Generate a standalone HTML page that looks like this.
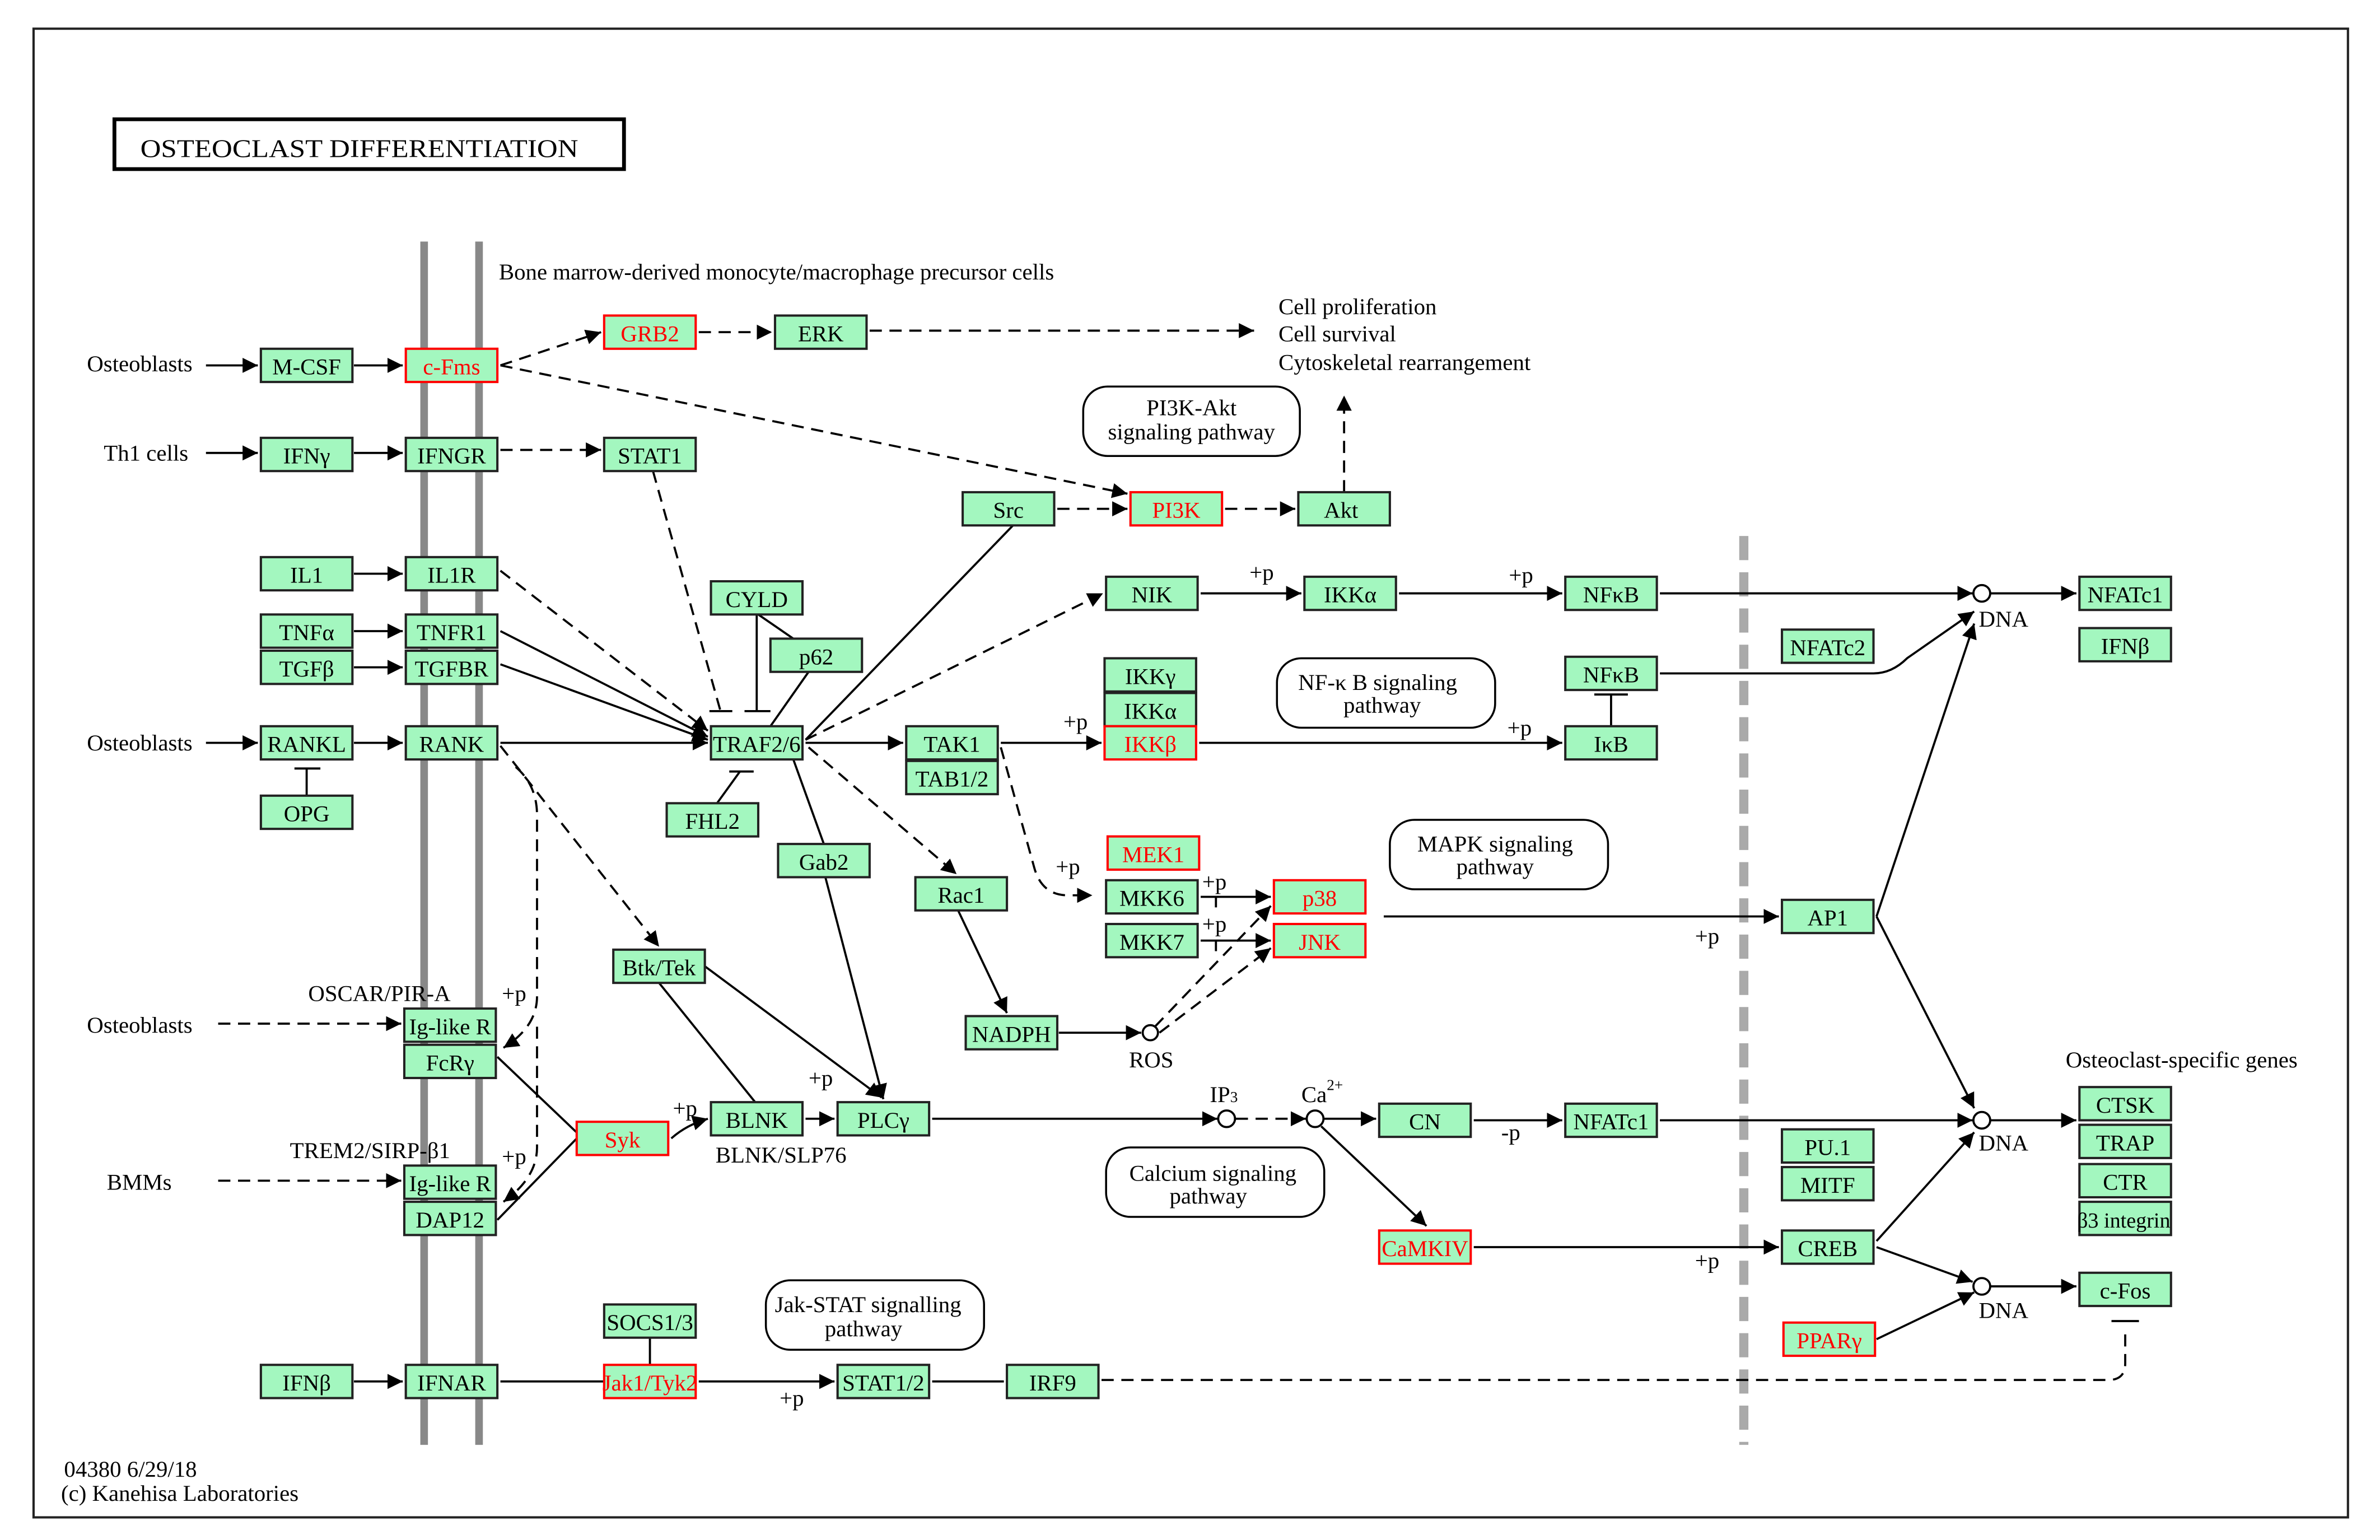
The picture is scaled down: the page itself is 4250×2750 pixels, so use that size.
<!DOCTYPE html>
<html><head><meta charset="utf-8"><style>
html,body{margin:0;padding:0;background:#fff;}
svg{display:block;}
text{font-family:"Liberation Serif","DejaVu Serif",serif;font-size:15px;fill:#000;}
.n rect{fill:#a3f7bf;stroke:#222;stroke-width:1.5;}
.r rect{fill:#a3f7bf;stroke:#f00;stroke-width:1.5;}
.n text,.r text{text-anchor:middle;}
.r text{fill:#f00;}
.l{stroke:#000;stroke-width:1.4;fill:none;}
.d{stroke:#000;stroke-width:1.4;fill:none;stroke-dasharray:8,5;}
.m{stroke:#888;stroke-width:5;}
.pw{fill:#fff;stroke:#000;stroke-width:1.3;}
</style></head><body>
<svg width="4250" height="2750" viewBox="0 0 1560 1020" preserveAspectRatio="none" xmlns="http://www.w3.org/2000/svg">
<defs><marker id="a" viewBox="0 0 10 10" refX="10" refY="5" markerWidth="10" markerHeight="10" markerUnits="userSpaceOnUse" orient="auto"><path d="M0,0L10,5L0,10z" fill="#000"/></marker></defs>
<rect x="0" y="0" width="1560" height="1020" fill="#fff"/>
<rect x="22" y="19" width="1517" height="986" fill="none" stroke="#222" stroke-width="1.5"/>
<rect x="75" y="79" width="334" height="33" fill="none" stroke="#000" stroke-width="2.5"/>
<text x="92" y="104" style="font-size:17px" textLength="287" lengthAdjust="spacingAndGlyphs">OSTEOCLAST  DIFFERENTIATION</text>

<line class="m" x1="278" y1="160" x2="278" y2="957"/>
<line class="m" x1="314" y1="160" x2="314" y2="957"/>
<line x1="1143" y1="355" x2="1143" y2="957" stroke="#aaa" stroke-width="6" stroke-dasharray="16,8"/>

<text x="327" y="185">Bone marrow-derived monocyte/macrophage precursor cells</text>
<text x="838" y="208">Cell proliferation</text>
<text x="838" y="226">Cell survival</text>
<text x="838" y="245">Cytoskeletal rearrangement</text>
<text x="1354" y="707">Osteoclast-specific genes</text>
<text x="57" y="246">Osteoblasts</text>
<text x="68" y="305">Th1 cells</text>
<text x="57" y="497">Osteoblasts</text>
<text x="57" y="684">Osteoblasts</text>
<text x="70" y="788">BMMs</text>
<text x="202" y="663">OSCAR/PIR-A</text>
<text x="190" y="767">TREM2/SIRP-β1</text>
<text x="469" y="770">BLNK/SLP76</text>
<text x="740" y="707">ROS</text>
<text x="793" y="730">IP<tspan style="font-size:10px">3</tspan></text>
<text x="853" y="730">Ca<tspan dy="-8" style="font-size:10px">2+</tspan></text>
<text x="1297" y="415">DNA</text>
<text x="1297" y="762">DNA</text>
<text x="1297" y="873">DNA</text>
<text x="42" y="978">04380 6/29/18</text>
<text x="40" y="994">(c) Kanehisa Laboratories</text>

<rect class="pw" x="710" y="256" width="142" height="46" rx="16"/>
<text x="781" y="275" text-anchor="middle">PI3K-Akt</text><text x="781" y="291" text-anchor="middle">signaling pathway</text>
<rect class="pw" x="837" y="436" width="143" height="46" rx="16"/>
<text x="903" y="457" text-anchor="middle">NF-κ B signaling</text><text x="906" y="472" text-anchor="middle">pathway</text>
<rect class="pw" x="911" y="543" width="143" height="46" rx="16"/>
<text x="980" y="564" text-anchor="middle">MAPK signaling</text><text x="980" y="579" text-anchor="middle">pathway</text>
<rect class="pw" x="725" y="760" width="143" height="46" rx="16"/>
<text x="795" y="782" text-anchor="middle">Calcium signaling</text><text x="792" y="797" text-anchor="middle">pathway</text>
<rect class="pw" x="502" y="848" width="143" height="46" rx="16"/>
<text x="569" y="869" text-anchor="middle">Jak-STAT signalling</text><text x="566" y="885" text-anchor="middle">pathway</text>

<line class="l" x1="135" y1="242" x2="169" y2="242" marker-end="url(#a)"/>
<line class="l" x1="232" y1="242" x2="264" y2="242" marker-end="url(#a)"/>
<line class="d" x1="328" y1="242" x2="394" y2="220" marker-end="url(#a)"/>
<line class="d" x1="458" y1="220" x2="506" y2="220" marker-end="url(#a)"/>
<line class="d" x1="570" y1="219" x2="822" y2="219" marker-end="url(#a)"/>
<line class="d" x1="328" y1="242" x2="739" y2="327" marker-end="url(#a)"/>
<line class="l" x1="135" y1="300" x2="169" y2="300" marker-end="url(#a)"/>
<line class="l" x1="232" y1="300" x2="264" y2="300" marker-end="url(#a)"/>
<line class="d" x1="328" y1="298" x2="394" y2="298" marker-end="url(#a)"/>
<line class="d" x1="428" y1="312" x2="472" y2="470"/>
<line class="l" x1="465" y1="471" x2="480" y2="471"/>
<line class="l" x1="496" y1="407" x2="496" y2="471"/>
<line class="l" x1="488" y1="471" x2="505" y2="471"/>
<line class="l" x1="497" y1="407" x2="520" y2="423"/>
<line class="l" x1="530" y1="445" x2="505" y2="481"/>
<line class="l" x1="478" y1="511" x2="494" y2="511"/>
<line class="l" x1="485" y1="511" x2="470" y2="532"/>
<line class="d" x1="693" y1="337" x2="739" y2="337" marker-end="url(#a)"/>
<line class="d" x1="803" y1="337" x2="849" y2="337" marker-end="url(#a)"/>
<line class="d" x1="881" y1="326" x2="881" y2="262" marker-end="url(#a)"/>
<line class="l" x1="664" y1="348" x2="528" y2="490"/>
<line class="l" x1="232" y1="380" x2="264" y2="380" marker-end="url(#a)"/>
<line class="d" x1="328" y1="378" x2="464" y2="484" marker-end="url(#a)"/>
<line class="l" x1="232" y1="418" x2="264" y2="418" marker-end="url(#a)"/>
<line class="l" x1="328" y1="418" x2="464" y2="488" marker-end="url(#a)"/>
<line class="l" x1="232" y1="442" x2="264" y2="442" marker-end="url(#a)"/>
<line class="l" x1="328" y1="440" x2="464" y2="490" marker-end="url(#a)"/>
<line class="l" x1="135" y1="492" x2="169" y2="492" marker-end="url(#a)"/>
<line class="l" x1="232" y1="492" x2="264" y2="492" marker-end="url(#a)"/>
<line class="l" x1="328" y1="492" x2="464" y2="492" marker-end="url(#a)"/>
<line class="l" x1="193" y1="509" x2="210" y2="509"/><line class="l" x1="201" y1="509" x2="201" y2="527"/>
<line class="d" x1="528" y1="490" x2="723" y2="393" marker-end="url(#a)"/>
<line class="l" x1="528" y1="492" x2="592" y2="492" marker-end="url(#a)"/>
<line class="l" x1="656" y1="492" x2="722" y2="492" marker-end="url(#a)"/>
<line class="d" x1="530" y1="495" x2="627" y2="579" marker-end="url(#a)"/>
<line class="l" x1="520" y1="503" x2="540" y2="559"/>
<line class="l" x1="541" y1="581" x2="579" y2="728" marker-end="url(#a)"/>
<path class="d" d="M656,495 L678,575 Q683,593 700,593 L716,593" marker-end="url(#a)"/>
<line class="l" x1="787" y1="393" x2="853" y2="393" marker-end="url(#a)"/>
<line class="l" x1="917" y1="393" x2="1024" y2="393" marker-end="url(#a)"/>
<line class="l" x1="1088" y1="393" x2="1293" y2="393" marker-end="url(#a)"/>
<line class="l" x1="1304" y1="393" x2="1361" y2="393" marker-end="url(#a)"/>
<line class="l" x1="786" y1="492" x2="1024" y2="492" marker-end="url(#a)"/>
<line class="l" x1="1056" y1="481" x2="1056" y2="460"/><line class="l" x1="1045" y1="460" x2="1067" y2="460"/>
<path class="l" d="M1088,446 L1228,446 Q1240,446 1250,436 L1294,405" marker-end="url(#a)"/>
<line class="l" x1="787" y1="594" x2="833" y2="594" marker-end="url(#a)"/>
<line class="l" x1="787" y1="623" x2="833" y2="623" marker-end="url(#a)"/>
<line class="l" x1="797" y1="594" x2="797" y2="601"/><line class="l" x1="797" y1="623" x2="797" y2="630"/>
<line class="d" x1="757" y1="680" x2="833" y2="600" marker-end="url(#a)"/>
<line class="d" x1="760" y1="684" x2="833" y2="628" marker-end="url(#a)"/>
<line class="l" x1="907" y1="607" x2="1166" y2="607" marker-end="url(#a)"/>
<line class="l" x1="628" y1="603" x2="660" y2="671" marker-end="url(#a)"/>
<line class="l" x1="694" y1="684" x2="748" y2="684" marker-end="url(#a)"/>
<circle cx="754" cy="684" r="5" fill="#fff" stroke="#000" stroke-width="1.4"/>
<line class="l" x1="1230" y1="607" x2="1294" y2="413" marker-end="url(#a)"/>
<line class="l" x1="1230" y1="607" x2="1294" y2="734" marker-end="url(#a)"/>
<line class="d" x1="328" y1="494" x2="432" y2="627" marker-end="url(#a)"/>
<path class="d" d="M338,508 Q352,520 352,540 L352,660 Q352,680 330,694" marker-end="url(#a)"/>
<path class="d" d="M352,680 L352,760 Q352,780 330,796" marker-end="url(#a)"/>
<line class="l" x1="462" y1="640" x2="578" y2="727" marker-end="url(#a)"/>
<line class="l" x1="432" y1="651" x2="495" y2="730"/>
<line class="l" x1="326" y1="700" x2="380" y2="752"/>
<line class="l" x1="326" y1="808" x2="380" y2="752"/>
<path class="l" d="M440,754 Q450,745 464,741" marker-end="url(#a)"/>
<line class="l" x1="528" y1="741" x2="547" y2="741" marker-end="url(#a)"/>
<line class="l" x1="611" y1="741" x2="798" y2="741" marker-end="url(#a)"/>
<circle cx="804" cy="741" r="5.5" fill="#fff" stroke="#000" stroke-width="1.4"/>
<line class="d" x1="810" y1="741" x2="856" y2="741" marker-end="url(#a)"/>
<circle cx="862" cy="741" r="5.5" fill="#fff" stroke="#000" stroke-width="1.4"/>
<line class="l" x1="868" y1="741" x2="902" y2="741" marker-end="url(#a)"/>
<line class="l" x1="966" y1="742" x2="1024" y2="742" marker-end="url(#a)"/>
<line class="l" x1="1088" y1="742" x2="1293" y2="742" marker-end="url(#a)"/>
<line class="l" x1="1304" y1="742" x2="1361" y2="742" marker-end="url(#a)"/>
<line class="l" x1="866" y1="746" x2="935" y2="812" marker-end="url(#a)"/>
<line class="l" x1="966" y1="826" x2="1166" y2="826" marker-end="url(#a)"/>
<line class="l" x1="1230" y1="822" x2="1294" y2="750" marker-end="url(#a)"/>
<line class="l" x1="1230" y1="826" x2="1293" y2="849" marker-end="url(#a)"/>
<line class="l" x1="1230" y1="887" x2="1294" y2="856" marker-end="url(#a)"/>
<line class="l" x1="1304" y1="852" x2="1361" y2="852" marker-end="url(#a)"/>
<circle cx="1299" cy="393" r="5.5" fill="#fff" stroke="#000" stroke-width="1.4"/>
<circle cx="1299" cy="742" r="5.5" fill="#fff" stroke="#000" stroke-width="1.4"/>
<circle cx="1299" cy="852" r="5.5" fill="#fff" stroke="#000" stroke-width="1.4"/>
<line class="d" x1="143" y1="678" x2="263" y2="678" marker-end="url(#a)"/>
<line class="d" x1="143" y1="782" x2="263" y2="782" marker-end="url(#a)"/>
<line class="l" x1="232" y1="915" x2="264" y2="915" marker-end="url(#a)"/>
<line class="l" x1="328" y1="915" x2="396" y2="915"/>
<line class="l" x1="458" y1="915" x2="547" y2="915" marker-end="url(#a)"/>
<line class="l" x1="611" y1="915" x2="658" y2="915"/>
<line class="l" x1="426" y1="886" x2="426" y2="904"/>
<path class="d" d="M722,914 L1382,914 Q1393,914 1393,903 L1393,879"/>
<line class="l" x1="1384" y1="875" x2="1402" y2="875"/>

<text x="819" y="384">+p</text><text x="989" y="386">+p</text>
<text x="697" y="483">+p</text><text x="988" y="487">+p</text>
<text x="692" y="579">+p</text><text x="788" y="589">+p</text><text x="788" y="617">+p</text>
<text x="1111" y="625">+p</text><text x="329" y="663">+p</text><text x="329" y="771">+p</text>
<text x="441" y="739">+p</text><text x="530" y="719">+p</text>
<text x="984" y="755">-p</text><text x="1111" y="840">+p</text><text x="511" y="931">+p</text>

<g class="n"><rect x="171" y="231" width="60" height="22"/><text x="201" y="248">M-CSF</text></g>
<g class="r"><rect x="266" y="231" width="60" height="22"/><text x="296" y="248">c-Fms</text></g>
<g class="r"><rect x="396" y="209" width="60" height="22"/><text x="426" y="226">GRB2</text></g>
<g class="n"><rect x="508" y="209" width="60" height="22"/><text x="538" y="226">ERK</text></g>
<g class="n"><rect x="171" y="290" width="60" height="22"/><text x="201" y="307">IFNγ</text></g>
<g class="n"><rect x="266" y="290" width="60" height="22"/><text x="296" y="307">IFNGR</text></g>
<g class="n"><rect x="396" y="290" width="60" height="22"/><text x="426" y="307">STAT1</text></g>
<g class="n"><rect x="631" y="326" width="60" height="22"/><text x="661" y="343">Src</text></g>
<g class="r"><rect x="741" y="326" width="60" height="22"/><text x="771" y="343">PI3K</text></g>
<g class="n"><rect x="851" y="326" width="60" height="22"/><text x="879" y="343">Akt</text></g>
<g class="n"><rect x="171" y="369" width="60" height="22"/><text x="201" y="386">IL1</text></g>
<g class="n"><rect x="266" y="369" width="60" height="22"/><text x="296" y="386">IL1R</text></g>
<g class="n"><rect x="171" y="407" width="60" height="22"/><text x="201" y="424">TNFα</text></g>
<g class="n"><rect x="266" y="407" width="60" height="22"/><text x="296" y="424">TNFR1</text></g>
<g class="n"><rect x="171" y="431" width="60" height="22"/><text x="201" y="448">TGFβ</text></g>
<g class="n"><rect x="266" y="431" width="60" height="22"/><text x="296" y="448">TGFBR</text></g>
<g class="n"><rect x="466" y="385" width="60" height="22"/><text x="496" y="402">CYLD</text></g>
<g class="n"><rect x="505" y="423" width="60" height="22"/><text x="535" y="440">p62</text></g>
<g class="n"><rect x="725" y="382" width="60" height="22"/><text x="755" y="399">NIK</text></g>
<g class="n"><rect x="855" y="382" width="60" height="22"/><text x="885" y="399">IKKα</text></g>
<g class="n"><rect x="1026" y="382" width="60" height="22"/><text x="1056" y="399">NFκB</text></g>
<g class="n"><rect x="1363" y="382" width="60" height="22"/><text x="1393" y="399">NFATc1</text></g>
<g class="n"><rect x="1363" y="416" width="60" height="22"/><text x="1393" y="433">IFNβ</text></g>
<g class="n"><rect x="1168" y="417" width="60" height="22"/><text x="1198" y="434">NFATc2</text></g>
<g class="n"><rect x="724" y="436" width="60" height="22"/><text x="754" y="453">IKKγ</text></g>
<g class="n"><rect x="724" y="459" width="60" height="22"/><text x="754" y="476">IKKα</text></g>
<g class="r"><rect x="724" y="481" width="60" height="22"/><text x="754" y="498">IKKβ</text></g>
<g class="n"><rect x="1026" y="435" width="60" height="22"/><text x="1056" y="452">NFκB</text></g>
<g class="n"><rect x="1026" y="481" width="60" height="22"/><text x="1056" y="498">IκB</text></g>
<g class="n"><rect x="171" y="481" width="60" height="22"/><text x="201" y="498">RANKL</text></g>
<g class="n"><rect x="266" y="481" width="60" height="22"/><text x="296" y="498">RANK</text></g>
<g class="n"><rect x="466" y="481" width="60" height="22"/><text x="496" y="498">TRAF2/6</text></g>
<g class="n"><rect x="594" y="481" width="60" height="22"/><text x="624" y="498">TAK1</text></g>
<g class="n"><rect x="594" y="504" width="60" height="22"/><text x="624" y="521">TAB1/2</text></g>
<g class="n"><rect x="171" y="527" width="60" height="22"/><text x="201" y="544">OPG</text></g>
<g class="n"><rect x="437" y="532" width="60" height="22"/><text x="467" y="549">FHL2</text></g>
<g class="n"><rect x="510" y="559" width="60" height="22"/><text x="540" y="576">Gab2</text></g>
<g class="n"><rect x="600" y="581" width="60" height="22"/><text x="630" y="598">Rac1</text></g>
<g class="r"><rect x="726" y="554" width="60" height="22"/><text x="756" y="571">MEK1</text></g>
<g class="n"><rect x="725" y="583" width="60" height="22"/><text x="755" y="600">MKK6</text></g>
<g class="r"><rect x="835" y="583" width="60" height="22"/><text x="865" y="600">p38</text></g>
<g class="n"><rect x="725" y="612" width="60" height="22"/><text x="755" y="629">MKK7</text></g>
<g class="r"><rect x="835" y="612" width="60" height="22"/><text x="865" y="629">JNK</text></g>
<g class="n"><rect x="1168" y="596" width="60" height="22"/><text x="1198" y="613">AP1</text></g>
<g class="n"><rect x="402" y="629" width="60" height="22"/><text x="432" y="646">Btk/Tek</text></g>
<g class="n"><rect x="633" y="673" width="60" height="22"/><text x="663" y="690">NADPH</text></g>
<g class="n"><rect x="265" y="668" width="60" height="22"/><text x="295" y="685">Ig-like R</text></g>
<g class="n"><rect x="265" y="692" width="60" height="22"/><text x="295" y="709">FcRγ</text></g>
<g class="r"><rect x="378" y="743" width="60" height="22"/><text x="408" y="760">Syk</text></g>
<g class="n"><rect x="466" y="730" width="60" height="22"/><text x="496" y="747">BLNK</text></g>
<g class="n"><rect x="549" y="730" width="60" height="22"/><text x="579" y="747">PLCγ</text></g>
<g class="n"><rect x="904" y="731" width="60" height="22"/><text x="934" y="748">CN</text></g>
<g class="n"><rect x="1026" y="731" width="60" height="22"/><text x="1056" y="748">NFATc1</text></g>
<g class="n"><rect x="1168" y="748" width="60" height="22"/><text x="1198" y="765">PU.1</text></g>
<g class="n"><rect x="1168" y="773" width="60" height="22"/><text x="1198" y="790">MITF</text></g>
<g class="n"><rect x="1363" y="720" width="60" height="22"/><text x="1393" y="737">CTSK</text></g>
<g class="n"><rect x="1363" y="745" width="60" height="22"/><text x="1393" y="762">TRAP</text></g>
<g class="n"><rect x="1363" y="771" width="60" height="22"/><text x="1393" y="788">CTR</text></g>
<g class="n"><rect x="1363" y="796" width="60" height="22"/><text x="1392" y="813" style="font-size:14px">β3 integrin</text></g>
<g class="n"><rect x="265" y="772" width="60" height="22"/><text x="295" y="789">Ig-like R</text></g>
<g class="n"><rect x="265" y="796" width="60" height="22"/><text x="295" y="813">DAP12</text></g>
<g class="r"><rect x="904" y="815" width="60" height="22"/><text x="934" y="832">CaMKIV</text></g>
<g class="n"><rect x="1168" y="815" width="60" height="22"/><text x="1198" y="832">CREB</text></g>
<g class="n"><rect x="1363" y="843" width="60" height="22"/><text x="1393" y="860">c-Fos</text></g>
<g class="r"><rect x="1169" y="876" width="60" height="22"/><text x="1199" y="893">PPARγ</text></g>
<g class="n"><rect x="396" y="864" width="60" height="22"/><text x="426" y="881">SOCS1/3</text></g>
<g class="r"><rect x="396" y="904" width="60" height="22"/><text x="426" y="921">Jak1/Tyk2</text></g>
<g class="n"><rect x="549" y="904" width="60" height="22"/><text x="579" y="921">STAT1/2</text></g>
<g class="n"><rect x="660" y="904" width="60" height="22"/><text x="690" y="921">IRF9</text></g>
<g class="n"><rect x="171" y="904" width="60" height="22"/><text x="201" y="921">IFNβ</text></g>
<g class="n"><rect x="266" y="904" width="60" height="22"/><text x="296" y="921">IFNAR</text></g>
</svg>
</body></html>
